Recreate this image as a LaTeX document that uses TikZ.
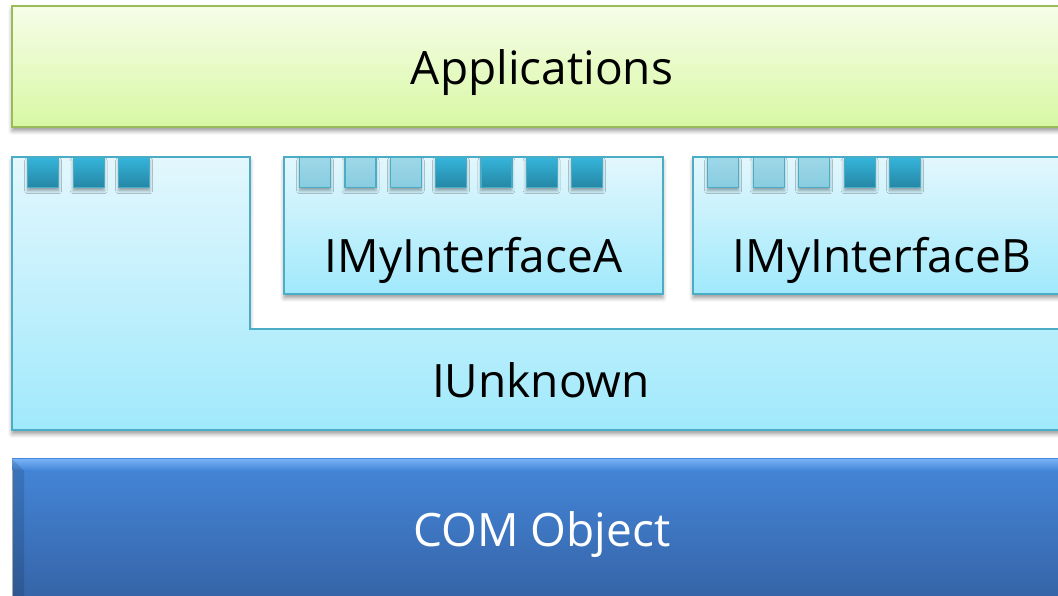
\documentclass[tikz,border=0pt]{standalone}
\usepackage{fontspec}
\setmainfont{Open Sans}
\usetikzlibrary{shadows.blur}
\definecolor{appTop}{HTML}{F6FDE8}
\definecolor{appBot}{HTML}{D8F8A4}
\definecolor{appLine}{HTML}{9BBB59}
\definecolor{ifTop}{HTML}{E3F7FD}
\definecolor{ifBot}{HTML}{A0E9FC}
\definecolor{ifLine}{HTML}{4BACC6}
\definecolor{sqLightTop}{HTML}{9DD8E8}
\definecolor{sqLightBot}{HTML}{88CCE0}
\definecolor{sqDarkTop}{HTML}{35B4DA}
\definecolor{sqDarkBot}{HTML}{2586A4}
\definecolor{comTop}{HTML}{4587DA}
\definecolor{comBot}{HTML}{3462A4}
\definecolor{comHi}{HTML}{72AEF2}
\tikzset{
  x=1pt, y=1pt,
  softshadow/.style={blur shadow={shadow xshift=0pt, shadow yshift=-4pt,
      shadow blur radius=4pt, shadow opacity=40}},
  layer/.style={line width=1.9pt, softshadow},
  applayer/.style={layer, draw=appLine, top color=appTop, bottom color=appBot},
  iflayer/.style={layer, draw=ifLine, top color=ifTop, bottom color=ifBot},
  slot/.style={draw=ifLine, line width=1.4pt, minimum width=31pt, minimum height=30pt,
      inner sep=0pt, anchor=north west,
      blur shadow={shadow xshift=0pt, shadow yshift=-3pt, shadow blur radius=3pt, shadow opacity=35}},
  slotlight/.style={slot, top color=sqLightTop, bottom color=sqLightBot},
  slotdark/.style={slot, top color=sqDarkTop, bottom color=sqDarkBot},
  label/.style={font=\fontsize{46}{54}\selectfont, anchor=base, inner sep=0pt},
}
\begin{document}
\begin{tikzpicture}
\useasboundingbox (0,0) rectangle (1058,596);
\clip (0,0) rectangle (1058,596);

% Applications layer
\path[applayer] (12,590) rectangle (1080,469);
\node[label] (apps) at (542,511) {Applications};

% IUnknown base (L-shaped)
\path[iflayer] (12,439) -- (250,439) -- (250,267) -- (1080,267) -- (1080,166) -- (12,166) -- cycle;
\node[label] (iunk) at (541,198) {IUnknown};

% Interface boxes
\path[iflayer] (284,439) rectangle (663,302);
\node[label] (ifa) at (473.5,323) {IMyInterfaceA};
\path[iflayer] (693,439) rectangle (1080,302);
\node[label] (ifb) at (882,323) {IMyInterfaceB};

% vtable slots of IUnknown
\foreach \i in {0,1,2} \node[slotdark] (u\i) at (27+45.5*\i,439) {};

% vtable slots of IMyInterfaceA
\foreach \i in {0,1,2} \node[slotlight] (a\i) at (299+45.3*\i,439) {};
\foreach \i in {3,4,5,6} \node[slotdark] (a\i) at (299+45.3*\i,439) {};

% vtable slots of IMyInterfaceB
\foreach \i in {0,1,2} \node[slotlight] (b\i) at (707+45.5*\i,439) {};
\foreach \i in {3,4} \node[slotdark] (b\i) at (707+45.5*\i,439) {};

% COM object
\path[draw=black!25, line width=0.8pt, top color=comTop, bottom color=comBot] (12,137) rectangle (1080,-10);
\shade[top color=comHi, bottom color=comTop] (12,136) rectangle (1080,126);
\fill[black, opacity=0.12] (12,137) -- (24,125) -- (24,-10) -- (12,-10) -- cycle;
\node[label, text=white] (com) at (542,49) {COM Object};
\end{tikzpicture}
\end{document}
